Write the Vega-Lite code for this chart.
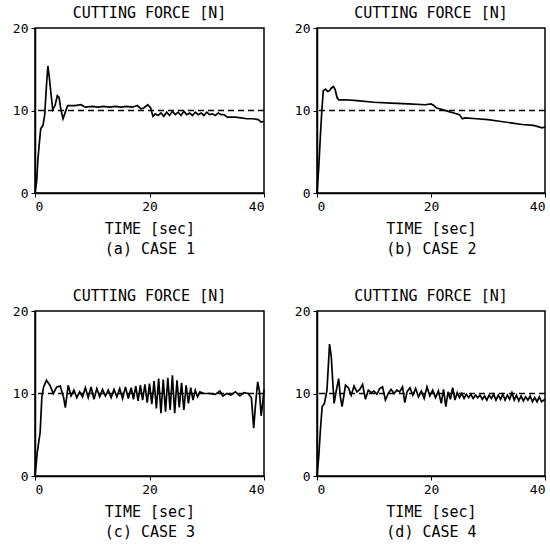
{
  "$schema": "https://vega.github.io/schema/vega-lite/v6.json",
  "background": "white",
  "padding": {"left": 11, "top": 5, "right": 0, "bottom": 0},
  "config": {
    "font": "DejaVu Sans Mono",
    "view": {"stroke": "black", "strokeWidth": 1.5},
    "title": {"fontSize": 15, "fontWeight": "normal", "color": "black", "offset": 1, "font": "DejaVu Sans Mono"},
    "axis": {"grid": false, "domainColor": "black", "domainWidth": 1.5, "tickColor": "black", "tickSize": 4, "labelFontSize": 13, "labelColor": "black", "labelPadding": 3, "titleFontSize": 15, "titleFontWeight": "normal", "titleColor": "black", "titleLineHeight": 20, "titlePadding": 4}
  },
  "datasets": {
    "c1": [
      {"t":0,"f":0},{"t":0.3,"f":1.5},{"t":0.5,"f":4},{"t":0.75,"f":6},{"t":1.0,"f":7.8},{"t":1.4,"f":8.2},{"t":1.7,"f":9.5},{"t":2.0,"f":13},{"t":2.25,"f":15.4},{"t":2.5,"f":14},{"t":2.8,"f":12},{"t":3.1,"f":10.1},{"t":3.5,"f":10.6},{"t":3.9,"f":11.8},{"t":4.2,"f":11.6},{"t":4.5,"f":10.2},{"t":4.9,"f":9.0},{"t":5.3,"f":9.8},{"t":5.7,"f":10.6},{"t":7.0,"f":10.6},{"t":8.0,"f":10.7},{"t":8.8,"f":10.4},{"t":10,"f":10.5},{"t":11,"f":10.4},{"t":12,"f":10.5},{"t":13,"f":10.4},{"t":14,"f":10.5},{"t":15,"f":10.4},{"t":16,"f":10.5},{"t":17,"f":10.4},{"t":17.9,"f":10.6},{"t":18.5,"f":10.2},{"t":19,"f":10.3},{"t":19.7,"f":10.7},{"t":20.2,"f":10.3},{"t":20.6,"f":9.3},{"t":21,"f":9.6},{"t":21.5,"f":9.4},{"t":22,"f":9.7},{"t":22.5,"f":9.3},{"t":23,"f":9.8},{"t":23.5,"f":9.4},{"t":24,"f":9.9},{"t":24.5,"f":9.5},{"t":25,"f":9.8},{"t":25.5,"f":9.4},{"t":26,"f":9.9},{"t":26.5,"f":9.5},{"t":27,"f":9.7},{"t":27.5,"f":9.4},{"t":28,"f":9.8},{"t":28.5,"f":9.5},{"t":29,"f":9.7},{"t":29.5,"f":9.4},{"t":30,"f":9.8},{"t":30.5,"f":9.5},{"t":31,"f":9.6},{"t":31.5,"f":9.4},{"t":32,"f":9.7},{"t":32.5,"f":9.5},{"t":33,"f":9.5},{"t":33.6,"f":9.2},{"t":35,"f":9.2},{"t":36,"f":9.1},{"t":37,"f":9.0},{"t":38,"f":9.0},{"t":39,"f":8.9},{"t":39.5,"f":8.6},{"t":40,"f":8.7}
    ],
    "c2": [
      {"t":0,"f":0},{"t":0.3,"f":3},{"t":0.6,"f":7},{"t":0.85,"f":10},{"t":1.1,"f":12.4},{"t":1.5,"f":12.6},{"t":1.9,"f":12.3},{"t":2.2,"f":12.4},{"t":2.5,"f":12.7},{"t":2.9,"f":12.9},{"t":3.2,"f":12.5},{"t":3.5,"f":11.6},{"t":3.8,"f":11.3},{"t":5,"f":11.3},{"t":7,"f":11.2},{"t":10,"f":11.0},{"t":13,"f":10.9},{"t":16,"f":10.8},{"t":19,"f":10.7},{"t":20,"f":10.8},{"t":20.5,"f":10.6},{"t":21,"f":10.3},{"t":22,"f":10.1},{"t":23,"f":9.9},{"t":24,"f":9.7},{"t":25,"f":9.5},{"t":25.5,"f":9.0},{"t":26,"f":9.1},{"t":28,"f":9.0},{"t":30,"f":8.9},{"t":32,"f":8.7},{"t":34,"f":8.5},{"t":36,"f":8.3},{"t":38,"f":8.2},{"t":39.5,"f":7.9},{"t":40,"f":8.0}
    ],
    "c3": [
      {"t":0,"f":0},{"t":0.4,"f":2.9},{"t":0.9,"f":5.3},{"t":1.2,"f":9.6},{"t":1.5,"f":10.8},{"t":2.0,"f":11.6},{"t":2.6,"f":11.0},{"t":3.2,"f":10.0},{"t":3.8,"f":10.8},{"t":4.4,"f":10.9},{"t":5.0,"f":9.5},{"t":5.3,"f":8.3},{"t":5.8,"f":11.0},{"t":6.3,"f":9.7},{"t":6.8,"f":10.4},{"t":7.3,"f":9.5},{"t":7.8,"f":10.2},{"t":8.3,"f":9.6},{"t":8.8,"f":10.7},{"t":9.3,"f":9.5},{"t":9.8,"f":10.8},{"t":10.3,"f":9.3},{"t":10.8,"f":10.6},{"t":11.3,"f":9.6},{"t":11.8,"f":10.5},{"t":12.3,"f":9.7},{"t":12.8,"f":10.4},{"t":13.3,"f":9.5},{"t":13.8,"f":10.5},{"t":14.3,"f":9.6},{"t":14.8,"f":10.6},{"t":15.3,"f":9.4},{"t":15.8,"f":10.8},{"t":16.3,"f":9.4},{"t":16.8,"f":10.7},{"t":17.2,"f":9.3},{"t":17.6,"f":10.9},{"t":18.0,"f":9.1},{"t":18.4,"f":11.0},{"t":18.8,"f":9.2},{"t":19.2,"f":11.1},{"t":19.6,"f":8.9},{"t":20.0,"f":11.2},{"t":20.4,"f":8.7},{"t":20.8,"f":11.5},{"t":21.2,"f":8.2},{"t":21.6,"f":11.8},{"t":22.0,"f":7.6},{"t":22.4,"f":11.7},{"t":22.8,"f":7.8},{"t":23.2,"f":11.9},{"t":23.6,"f":8.0},{"t":24.0,"f":12.2},{"t":24.4,"f":7.6},{"t":24.8,"f":11.6},{"t":25.2,"f":8.3},{"t":25.6,"f":11.3},{"t":26.0,"f":8.0},{"t":26.4,"f":11.0},{"t":26.8,"f":8.8},{"t":27.2,"f":10.7},{"t":27.6,"f":9.2},{"t":28.0,"f":10.4},{"t":28.4,"f":9.6},{"t":28.8,"f":10.2},{"t":29.5,"f":10.0},{"t":30.5,"f":10.0},{"t":31.5,"f":9.9},{"t":32.3,"f":10.3},{"t":32.8,"f":9.7},{"t":33.5,"f":10.0},{"t":34.2,"f":9.8},{"t":35,"f":10.2},{"t":35.8,"f":9.7},{"t":36.5,"f":10.1},{"t":37.2,"f":10.0},{"t":37.8,"f":9.5},{"t":38.2,"f":5.8},{"t":38.5,"f":8.5},{"t":38.9,"f":11.4},{"t":39.2,"f":10.3},{"t":39.5,"f":7.3},{"t":39.8,"f":9.0},{"t":40,"f":10.5}
    ],
    "c4": [
      {"t":0,"f":0},{"t":0.3,"f":2.3},{"t":0.6,"f":5.6},{"t":0.9,"f":8.4},{"t":1.3,"f":8.8},{"t":1.75,"f":10.4},{"t":2.0,"f":13.5},{"t":2.2,"f":16.0},{"t":2.5,"f":14.5},{"t":2.75,"f":11.6},{"t":3.0,"f":8.8},{"t":3.4,"f":10.4},{"t":3.8,"f":11.8},{"t":4.1,"f":9.6},{"t":4.4,"f":8.4},{"t":5.0,"f":11.0},{"t":5.5,"f":10.7},{"t":6.0,"f":9.8},{"t":6.5,"f":10.9},{"t":7.0,"f":10.2},{"t":7.5,"f":10.5},{"t":8.0,"f":11.1},{"t":8.5,"f":9.3},{"t":9.0,"f":10.4},{"t":9.5,"f":10.1},{"t":10.0,"f":10.3},{"t":10.5,"f":9.9},{"t":11.0,"f":10.6},{"t":11.5,"f":10.8},{"t":12.0,"f":9.2},{"t":12.5,"f":10.0},{"t":13.0,"f":10.5},{"t":13.5,"f":10.0},{"t":14.0,"f":10.4},{"t":14.5,"f":10.2},{"t":15.0,"f":10.8},{"t":15.4,"f":8.9},{"t":15.8,"f":10.2},{"t":16.3,"f":10.7},{"t":16.8,"f":9.8},{"t":17.3,"f":10.6},{"t":17.8,"f":9.6},{"t":18.3,"f":10.3},{"t":18.8,"f":9.4},{"t":19.3,"f":10.8},{"t":19.8,"f":9.7},{"t":20.3,"f":10.4},{"t":20.8,"f":9.5},{"t":21.3,"f":10.3},{"t":21.8,"f":8.8},{"t":22.2,"f":10.5},{"t":22.6,"f":8.4},{"t":23.0,"f":10.2},{"t":23.4,"f":9.3},{"t":23.8,"f":10.7},{"t":24.2,"f":9.2},{"t":24.6,"f":10.1},{"t":25.0,"f":9.5},{"t":25.4,"f":10.0},{"t":25.8,"f":9.4},{"t":26.2,"f":9.9},{"t":26.6,"f":9.5},{"t":27.0,"f":9.9},{"t":27.4,"f":9.4},{"t":27.8,"f":9.8},{"t":28.2,"f":9.5},{"t":28.6,"f":9.8},{"t":29.0,"f":9.3},{"t":29.4,"f":9.7},{"t":29.8,"f":9.2},{"t":30.2,"f":9.8},{"t":30.6,"f":9.4},{"t":31.0,"f":9.9},{"t":31.4,"f":9.2},{"t":31.8,"f":9.8},{"t":32.2,"f":9.3},{"t":32.6,"f":9.9},{"t":33.0,"f":9.2},{"t":33.4,"f":9.8},{"t":33.8,"f":9.3},{"t":34.2,"f":10.1},{"t":34.6,"f":9.2},{"t":35.0,"f":9.8},{"t":35.4,"f":9.1},{"t":35.8,"f":9.7},{"t":36.2,"f":9.1},{"t":36.6,"f":9.6},{"t":37.0,"f":9.2},{"t":37.4,"f":9.7},{"t":37.8,"f":9.0},{"t":38.2,"f":9.5},{"t":38.6,"f":9.0},{"t":39.0,"f":9.6},{"t":39.4,"f":9.0},{"t":40,"f":9.3}
    ],
    "ref": [{"f":10}]
  },
  "vconcat": [
    {
      "hconcat": [
        {
          "width": 229, "height": 165,
          "title": "CUTTING FORCE [N]",
          "layer": [
            {"data": {"name": "ref"}, "mark": {"type": "rule", "color": "black", "strokeWidth": 1.5, "strokeDash": [6, 4]}, "encoding": {"y": {"field": "f", "type": "quantitative", "scale": {"domain": [0, 20]}}}},
            {"data": {"name": "c1"}, "mark": {"type": "line", "color": "black", "strokeWidth": 1.7},
             "encoding": {
               "x": {"field": "t", "type": "quantitative", "scale": {"domain": [0, 40], "nice": false}, "axis": {"values": [0, 20, 40], "title": ["TIME [sec]", "(a) CASE 1"], "titlePadding": 8}},
               "y": {"field": "f", "type": "quantitative", "scale": {"domain": [0, 20], "nice": false}, "axis": {"values": [0, 10, 20], "title": null}}
             }}
          ]
        },
        {
          "width": 228, "height": 165,
          "title": "CUTTING FORCE [N]",
          "layer": [
            {"data": {"name": "ref"}, "mark": {"type": "rule", "color": "black", "strokeWidth": 1.5, "strokeDash": [6, 4]}, "encoding": {"y": {"field": "f", "type": "quantitative", "scale": {"domain": [0, 20]}}}},
            {"data": {"name": "c2"}, "mark": {"type": "line", "color": "black", "strokeWidth": 1.7},
             "encoding": {
               "x": {"field": "t", "type": "quantitative", "scale": {"domain": [0, 40], "nice": false}, "axis": {"values": [0, 20, 40], "title": ["TIME [sec]", "(b) CASE 2"], "titlePadding": 8}},
               "y": {"field": "f", "type": "quantitative", "scale": {"domain": [0, 20], "nice": false}, "axis": {"values": [0, 10, 20], "title": null}}
             }}
          ]
        }
      ],
      "spacing": 24
    },
    {
      "hconcat": [
        {
          "width": 229, "height": 165,
          "title": "CUTTING FORCE [N]",
          "layer": [
            {"data": {"name": "ref"}, "mark": {"type": "rule", "color": "black", "strokeWidth": 1.5, "strokeDash": [6, 4]}, "encoding": {"y": {"field": "f", "type": "quantitative", "scale": {"domain": [0, 20]}}}},
            {"data": {"name": "c3"}, "mark": {"type": "line", "color": "black", "strokeWidth": 1.7},
             "encoding": {
               "x": {"field": "t", "type": "quantitative", "scale": {"domain": [0, 40], "nice": false}, "axis": {"values": [0, 20, 40], "title": ["TIME [sec]", "(c) CASE 3"], "titlePadding": 8}},
               "y": {"field": "f", "type": "quantitative", "scale": {"domain": [0, 20], "nice": false}, "axis": {"values": [0, 10, 20], "title": null}}
             }}
          ]
        },
        {
          "width": 228, "height": 165,
          "title": "CUTTING FORCE [N]",
          "layer": [
            {"data": {"name": "ref"}, "mark": {"type": "rule", "color": "black", "strokeWidth": 1.5, "strokeDash": [6, 4]}, "encoding": {"y": {"field": "f", "type": "quantitative", "scale": {"domain": [0, 20]}}}},
            {"data": {"name": "c4"}, "mark": {"type": "line", "color": "black", "strokeWidth": 1.7},
             "encoding": {
               "x": {"field": "t", "type": "quantitative", "scale": {"domain": [0, 40], "nice": false}, "axis": {"values": [0, 20, 40], "title": ["TIME [sec]", "(d) CASE 4"], "titlePadding": 8}},
               "y": {"field": "f", "type": "quantitative", "scale": {"domain": [0, 20], "nice": false}, "axis": {"values": [0, 10, 20], "title": null}}
             }}
          ]
        }
      ],
      "spacing": 24
    }
  ],
  "spacing": 31
}
